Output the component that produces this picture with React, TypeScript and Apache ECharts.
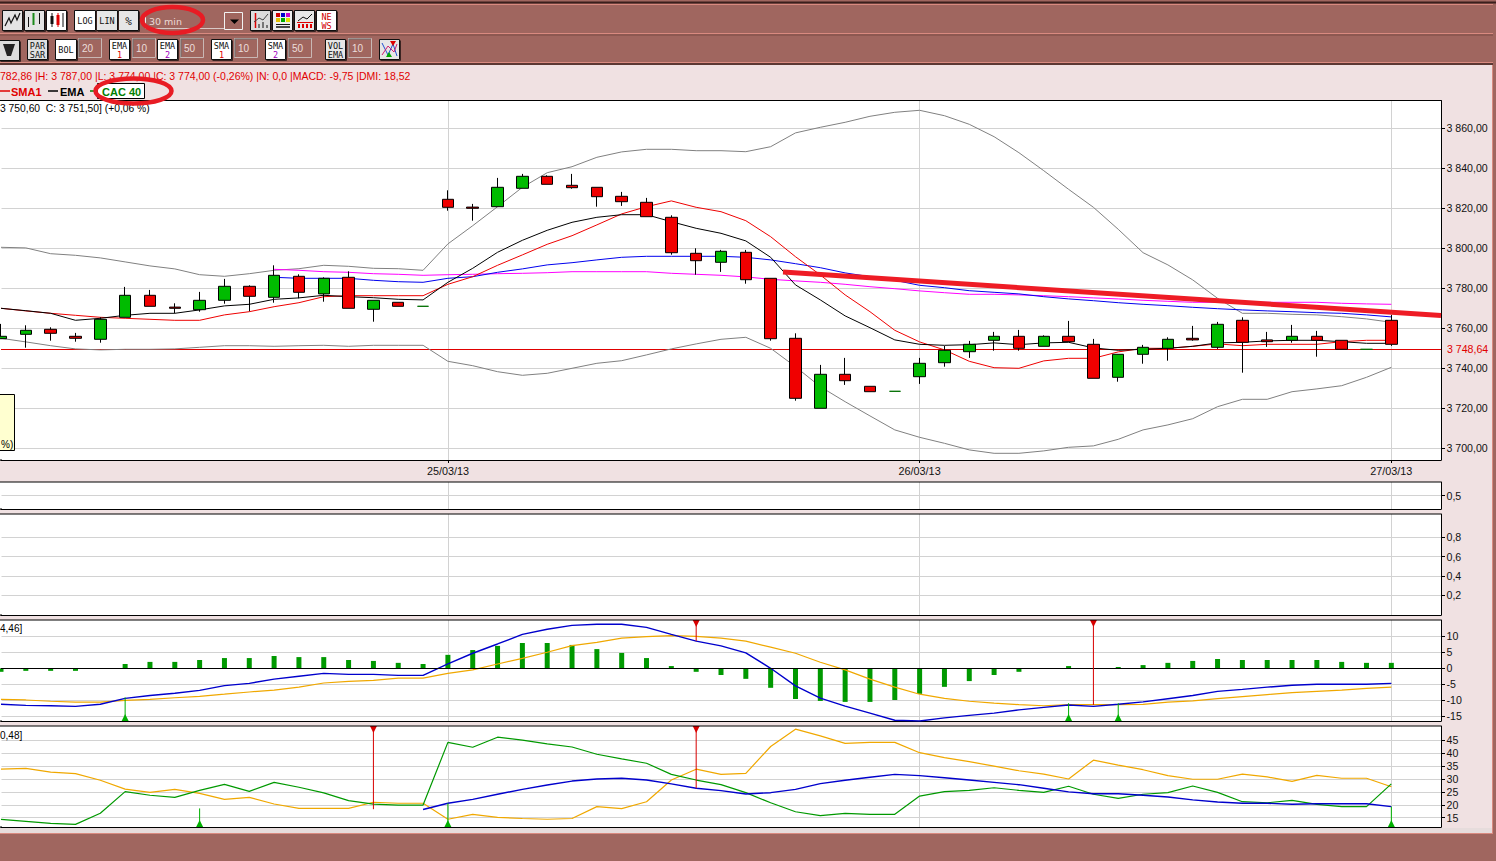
import React, { useEffect, useRef } from "react";
import * as echarts from "echarts";

const slotCount = 59;
const categories = Array.from({ length: slotCount }, (_, i) => String(i));
const dateLabels: Record<string, string> = { "18": "25/03/13", "37": "26/03/13", "56": "27/03/13" };

const priceTicks = [3700, 3720, 3740, 3760, 3780, 3800, 3820, 3840, 3860];
const panel2Ticks = [0.5];
const panel3Ticks = [0.2, 0.4, 0.6, 0.8];
const macdTicks = [-15, -10, -5, 0, 5, 10];
const dmiTicks = [15, 20, 25, 30, 35, 40, 45];

// open, close, low, high
const candles = [
  [3754.8, 3756, 3754.8, 3762.2], [3757, 3759, 3750.3, 3761.5], [3759.5, 3757.5, 3753.8, 3760.5], [3756, 3755, 3753.3, 3757.7],
  [3754.5, 3764.5, 3752.8, 3765.5], [3765.5, 3776.5, 3765.5, 3780.7], [3776.5, 3771, 3771, 3779.2], [3770.6, 3770, 3767.5, 3772.5],
  [3769.3, 3774, 3768.3, 3778.2], [3774, 3781, 3772.3, 3784.7], [3781, 3776, 3768.5, 3781.5], [3775.5, 3786.5, 3772.8, 3791.5],
  [3786, 3778, 3775, 3787], [3777.2, 3785, 3773.3, 3785.5], [3785.5, 3770, 3770, 3788.5], [3769.5, 3774, 3763.3, 3774],
  [3773, 3771, 3771, 3773], [3771, 3771, 3771, 3771], [3824.5, 3820.5, 3818.8, 3829], [3820.6, 3820, 3813.8, 3822.2],
  [3820.8, 3830.5, 3820.8, 3835.2], [3830, 3836, 3830, 3837.2], [3836, 3832, 3832, 3836.5], [3831.5, 3830.3, 3829.8, 3837.2],
  [3830.5, 3825.8, 3820.8, 3830.5], [3826, 3823.3, 3821.2, 3828.2], [3823, 3815.8, 3815.8, 3825.2], [3815.5, 3797.8, 3796.8, 3816.5],
  [3797.5, 3793.8, 3786.8, 3800], [3793, 3798.5, 3788.2, 3799.2], [3798, 3784.3, 3782.3, 3799.2], [3785, 3754.8, 3753.8, 3785],
  [3755, 3725, 3723.8, 3757.5], [3720, 3737, 3720, 3741.7], [3737, 3733.8, 3731.7, 3745.2], [3731, 3728.3, 3728.3, 3731],
  [3728.5, 3728.5, 3728.5, 3728.5], [3735.8, 3742.5, 3732.2, 3745.2], [3742.8, 3749, 3740.8, 3751.2], [3748.3, 3752, 3745.2, 3753.7],
  [3754, 3756, 3748.8, 3758.2], [3756, 3750, 3748.8, 3759.2], [3751, 3756, 3751, 3756.5], [3756, 3753.3, 3753.3, 3763.7],
  [3752, 3735, 3735, 3754.7], [3735.5, 3747, 3733.3, 3747], [3747, 3750.5, 3742.3, 3751.7], [3750, 3754.5, 3743.8, 3755.5],
  [3755, 3754.2, 3753.8, 3761.2], [3750.5, 3762, 3749.7, 3763.2], [3764, 3753, 3737.8, 3765.5], [3754.2, 3753.3, 3750.7, 3758.2],
  [3754, 3756, 3752.8, 3761.7], [3756, 3754, 3745.8, 3758.7], [3754, 3749.5, 3749.5, 3754], [3749.5, 3749.5, 3749.5, 3749.5],
  [3764, 3752, 3751.2, 3766.7],
];

const bollUpper = [3800.5, 3800.2, 3797.3, 3796.5, 3795.2, 3793.2, 3791.2, 3789.7, 3786.8, 3786, 3787.3, 3789, 3789.8, 3791.5, 3791, 3790, 3789.8, 3789, 3802.2, 3811.3, 3820.8, 3830.5, 3837.8, 3840.8, 3845.5, 3848.2, 3849.5, 3849.5, 3848.8, 3848.8, 3848.3, 3850.8, 3857.7, 3860.5, 3863, 3866, 3868, 3869, 3866.3, 3862, 3855.8, 3847.8, 3838.8, 3829.5, 3820.5, 3809.5, 3797.8, 3791.7, 3784.2, 3775, 3767.5, 3767.5, 3767, 3766.7, 3765.8, 3764.7, 3763];
const bollLower = [3755, 3753.2, 3751.3, 3749.7, 3749.2, 3749.5, 3749.5, 3749.7, 3750.5, 3751.3, 3751.3, 3751, 3751.3, 3751.5, 3751, 3751.5, 3751.5, 3751.5, 3743.5, 3741.3, 3738.3, 3736.5, 3737.5, 3740, 3742.5, 3743.8, 3746.7, 3749.7, 3752.2, 3754.5, 3755.5, 3750, 3740.8, 3730.8, 3723.3, 3716.2, 3709.2, 3705.5, 3702.5, 3699.2, 3697.5, 3697.5, 3698.7, 3700.5, 3701.2, 3704.5, 3709.2, 3711.7, 3714.8, 3720.8, 3724.5, 3724.5, 3728.3, 3729.7, 3731.3, 3735.5, 3740.5];
const ema1 = [3770, 3768.8, 3767.5, 3764, 3765, 3766.5, 3767.5, 3767.5, 3769.2, 3771.2, 3772, 3774.5, 3775.2, 3776.5, 3775.8, 3775.3, 3774.5, 3774.2, 3783, 3790, 3798, 3804, 3809, 3813, 3815.5, 3816.8, 3816.8, 3813.3, 3810, 3807.5, 3803.7, 3795.5, 3781.7, 3774.2, 3766.2, 3760.3, 3754.2, 3752, 3751.5, 3751.8, 3752.7, 3751.8, 3752.7, 3753, 3750.2, 3749, 3749.5, 3750, 3751, 3752.7, 3753, 3753.7, 3754, 3754, 3753.3, 3752.5, 3752.5];
const sma1 = [3770, 3768.7, 3767.5, 3766.5, 3765.5, 3765, 3764.5, 3764, 3764, 3766.7, 3768.3, 3770.8, 3772.8, 3775.8, 3776.3, 3776.3, 3776.3, 3776.3, 3782, 3785.8, 3791.5, 3796.7, 3802, 3806.3, 3811.7, 3817.2, 3820.8, 3823.7, 3820.5, 3818.3, 3813.8, 3805.8, 3795.8, 3786.7, 3776.7, 3768.3, 3759, 3753.2, 3749.2, 3743.5, 3740.3, 3740, 3743.7, 3745, 3745, 3748.2, 3750, 3750, 3751, 3752.2, 3751.3, 3752, 3752, 3752, 3753.3, 3754, 3754];
const ema2 = [null, null, null, null, null, null, null, null, null, null, null, 3785.5, 3785, 3785, 3785, 3784, 3783.3, 3783, 3785, 3785.8, 3788, 3789.7, 3791.7, 3792.8, 3794.2, 3795.5, 3796, 3796, 3796, 3796, 3795.5, 3794.2, 3792.3, 3790.3, 3787.7, 3785.8, 3784, 3781.5, 3780.3, 3778.8, 3778, 3777.2, 3775.8, 3774.7, 3773.8, 3772.8, 3772, 3771.3, 3770.5, 3769.8, 3769.2, 3768.7, 3768.3, 3767.8, 3767.5, 3766.7, 3765.7];
const sma2 = [null, null, null, null, null, null, null, null, null, null, null, 3789.5, 3789, 3788.3, 3788, 3787.3, 3787, 3786.5, 3786.8, 3787, 3787.3, 3787.5, 3787.8, 3788.3, 3788.3, 3788.3, 3788.3, 3787.5, 3787, 3786.5, 3785.7, 3784.5, 3783.7, 3783, 3782, 3780.8, 3779.8, 3778.7, 3777.8, 3777, 3777, 3776.7, 3776.3, 3775.8, 3775.2, 3774.7, 3774, 3773.5, 3773, 3773, 3773, 3773, 3773, 3773, 3772.5, 3772.2, 3772];

const macdHist = [-1.1, -0.8, -0.8, -0.8, 0, 1.35, 2, 2, 2.6, 3.2, 3.2, 3.85, 3.5, 3.5, 2.6, 2.3, 1.7, 1.35, 4.2, 5.7, 7, 7.9, 7.9, 7.3, 6, 4.8, 3.2, 0.7, -1.1, -2.1, -3.3, -6.1, -9.6, -10.2, -10.5, -10.5, -9.9, -8, -5.8, -4, -2.1, -1.1, 0, 0.7, 0, 0.4, 1, 1.7, 2.3, 2.9, 2.6, 2.6, 2.6, 2.6, 2, 1.7, 1.7];
const macdLine = [-11.25, -11.6, -11.7, -11.9, -11.25, -9.4, -8.5, -7.8, -6.9, -5.4, -4.7, -3.4, -2.5, -1.6, -1.9, -1.9, -2.2, -2.2, 1.35, 4.7, 7.6, 10.6, 12.2, 13.4, 13.75, 13.75, 12.8, 10.6, 8.5, 7, 4.8, 0, -5.5, -9.3, -11.8, -14, -16.25, -16.45, -15.5, -14.7, -14, -13, -12.2, -11.45, -11.9, -11.25, -10.5, -9.5, -8.5, -7.2, -6.6, -5.9, -5.3, -5, -5, -5, -4.7];
const macdSignal = [-9.7, -9.9, -10.3, -10.6, -10.6, -10, -9.7, -9.2, -8.75, -8.1, -7.4, -6.8, -5.9, -4.6, -4.1, -3.75, -3.1, -3.1, -1.6, -0.5, 1.35, 3.1, 5, 7.1, 8.1, 9.4, 9.9, 10.2, 10, 9.4, 8.5, 6.6, 4.7, 1.9, -0.5, -3.4, -5.9, -8.1, -9.4, -10.3, -10.9, -11.35, -11.7, -11.35, -11.35, -11.35, -11.25, -10.6, -10.2, -9.5, -8.85, -8.2, -7.6, -7.2, -6.8, -6.25, -5.9];

const dmiPlus = [14.35, 13.6, 12.8, 12.4, 16.7, 25.1, 23.7, 22.9, 25.6, 27.9, 25.2, 28.7, 26.8, 24.6, 21.6, 20.3, 19.9, 19.9, 44.2, 42.3, 46.2, 45.1, 43.6, 42.4, 39.6, 37.8, 36.1, 31.8, 29.6, 27.8, 24.7, 20.8, 17.3, 15.8, 16.7, 16.3, 16.3, 23.4, 25.1, 25.6, 26.6, 25.6, 24.8, 27.2, 24.1, 22.5, 24.1, 24.7, 27.3, 24.8, 21.2, 20.8, 21.7, 20.2, 19.3, 19.3, 28.1];
const dmiMinus = [33.8, 34.1, 32.7, 32.1, 29.5, 26.1, 24.8, 26, 24.4, 22.1, 22.9, 20.3, 18.6, 18.6, 18.6, 21, 20.6, 20.6, 14.4, 16.3, 15.1, 14.7, 14.4, 14.7, 19.3, 18.5, 21.2, 29.6, 33.8, 31.8, 32.2, 42.6, 49.3, 46.7, 43.8, 44.2, 44.2, 40.2, 38.3, 36.7, 35, 33.2, 31.9, 30, 37.3, 35.4, 33.6, 31.3, 29.9, 29.9, 31.9, 30.8, 29.1, 31.4, 30.3, 30.3, 27];
const adx = [null, null, null, null, null, null, null, null, null, null, null, null, null, null, null, null, null, 18.2, 20.6, 22.1, 24.1, 26, 27.7, 29.2, 30, 30.3, 29.6, 28.1, 26.4, 25.5, 24.2, 24.7, 26, 28.2, 29.5, 30.7, 31.8, 31.3, 30.5, 29.6, 28.7, 27.8, 26.4, 25, 24.3, 24.3, 23.7, 23, 21.9, 21.1, 20.6, 20.6, 20.2, 20.4, 20.4, 20.4, 19.3];

// [slot, value at the axis edge, value at the end of the stem]
const macdBuySignals = [[5, -16.47, -9.1], [43, -16.47, -10.9], [45, -16.47, -10.9]];
const macdSellSignals = [[28, 15.09, 8.5], [44, 15.09, -11.45]];
const dmiBuySignals = [[8, 11.4, 18.6], [18, 11.4, 20.6], [56, 11.4, 19.3]];
const dmiSellSignals = [[15, 50.54, 18.3], [28, 50.54, 26.4]];

const lastPriceLevel = 3749.5;
const lastPriceLabel = "3 748,64";
const infoLine = "782,86 |H: 3 787,00 |L: 3 774,00 |C: 3 774,00 (-0,26%) |N: 0,0 |MACD: -9,75 |DMI: 18,52";
const hoverLine = "3 750,60  C: 3 751,50] (+0,06 %)";

const BROWN = "#a0665f";
const PINK = "#f0e1e2";
const GRIDLINE = "#d2d2d2";
const FONT = "Liberation Sans, Arial, sans-serif";

const grids = [
  { top: 100.5, height: 359.5, min: 3694.15, max: 3873.9 },
  { top: 482, height: 27, min: 0, max: 1 },
  { top: 514, height: 101, min: -0.004, max: 1.041 },
  { top: 620, height: 101, min: -16.47, max: 15.09 },
  { top: 726, height: 101, min: 11.4, max: 50.54 },
];

const fmtPrice = (v: number) => `3 ${String(Math.round(v) % 1000).padStart(3, "0")},00`;
const fmtDec = (v: number) => String(v).replace(".", ",");

function T(x: number, y: number, text: string, fill: string, font: string, align = "left") {
  return {
    type: "text", x, y, z: 50, silent: true,
    style: { text, fill, font, align, verticalAlign: "middle", textAlign: align, textVerticalAlign: "middle" },
  };
}
function R(x: number, y: number, w: number, h: number, fill: string, stroke?: string, z = 40) {
  return {
    type: "rect", z, silent: true, shape: { x, y, width: w, height: h },
    style: { fill, stroke: stroke || "none", lineWidth: stroke ? 1 : 0 },
  };
}
function L(x1: number, y1: number, x2: number, y2: number, stroke: string, lineWidth = 1, z = 45) {
  return { type: "line", z, silent: true, shape: { x1, y1, x2, y2 }, style: { stroke, lineWidth } };
}
function P(points: number[][], stroke: string, lineWidth = 1) {
  return { type: "polyline", z: 50, silent: true, shape: { points }, style: { stroke, lineWidth, fill: "none" } };
}
function Btn(x: number, y: number, w: number, h: number, fill = "#f6f6f6") {
  return [
    R(x + 0.5, y + 0.5, w, h, fill, "#101010"),
    L(x + 1.5, y + h + 1.5, x + w + 1.5, y + h + 1.5, "#3a2422"),
    L(x + w + 1.5, y + 1.5, x + w + 1.5, y + h + 1.5, "#3a2422"),
  ];
}
const BTN_FONT = "8.5px DejaVu Sans Mono, monospace";
function TextBtn(x: number, y: number, w: number, h: number, lines: string[], colors?: string[], fill?: string, font = BTN_FONT) {
  const out: any[] = Btn(x, y, w, h, fill);
  const step = 9;
  const y0 = y + h / 2 + 1 - ((lines.length - 1) * step) / 2;
  lines.forEach((t, i) => out.push(T(x + w / 2 + 0.5, y0 + i * step, t, colors ? colors[i] : "#111", font, "center")));
  return out;
}
function Field(x: number, y: number, w: number, h: number, text: string) {
  return [R(x + 0.5, y + 0.5, w, h, BROWN, "#c9b7b4"), L(x + 1, y + 1, x + w, y + 1, "#6e6e6e"), L(x + 1, y + 1, x + 1, y + h, "#6e6e6e"),
    T(x + 4, y + h / 2 + 1, text, "#ecdedb", "10px Liberation Sans, sans-serif")];
}

function chromeElements() {
  const els: any[] = [];
  // bands
  els.push(R(0, 0, 1496, 65, BROWN, undefined, 30));
  els.push(R(0, 833, 1496, 28, BROWN, undefined, 30));
  els.push(R(1493, 0, 3, 861, BROWN, undefined, 30));
  els.push(L(0, 2.5, 1496, 2.5, "#3a1f1c", 2, 32));
  els.push(L(0, 4.5, 1493, 4.5, "#d98a80", 1, 32));
  els.push(L(0, 33.5, 1493, 33.5, "#d98a80", 1, 32));
  els.push(L(0, 35, 1493, 35, "#7a4a44", 1, 32));
  els.push(L(0, 62.5, 1493, 62.5, "#d98a80", 1, 32));
  els.push(L(0, 64, 1493, 64, "#5c3733", 2, 32));
  els.push(L(0, 833.5, 1493, 833.5, "#d98a80", 1, 32));
  els.push(L(1492.5, 65, 1492.5, 833, "#d98a80", 1, 32));
  els.push(R(0, 828, 1492, 5, "#e6dcdc", undefined, 31));

  // row 1
  els.push(...Btn(2, 10, 20, 20, "#e4e4e4"));
  els.push(P([[5, 26], [9, 18], [11, 23], [15, 15], [17, 20], [20, 13]], "#111", 1.2));
  els.push(...Btn(24, 10, 20, 20, "#e4e4e4"));
  els.push(L(28.5, 17, 28.5, 27, "#111"), L(33.5, 13, 33.5, 25, "#1a8a1a", 2), L(39.5, 13, 39.5, 24, "#111"));
  els.push(...Btn(46, 10, 20, 20, "#ffffff"));
  els.push(L(52, 13, 52, 27, "#111"), L(58, 13, 58, 27, "#d00"), R(50.5, 16, 3, 8, "#111"), R(56.5, 15, 3, 10, "#e00000"), L(63, 13, 63, 27, "#111"));
  els.push(...TextBtn(74, 10, 21, 20, ["LOG"], undefined, "#ffffff"));
  els.push(...TextBtn(96, 10, 21, 20, ["LIN"], undefined, "#e6e6e6"));
  els.push(...TextBtn(118, 10, 20, 20, ["%"], undefined, "#e6e6e6", "11px DejaVu Sans Mono, monospace"));
  // dropdown
  els.push(L(145.5, 12, 145.5, 29, "#f2f2f2", 1));
  els.push(L(146, 28.5, 224, 28.5, "#d9c8c6", 1));
  els.push(T(149, 21, "30 min", "#ecdad7", "9.5px DejaVu Sans, sans-serif"));
  els.push(R(224.5, 12.5, 18, 17, BROWN, "#f2f2f2"));
  els.push({ type: "polygon", z: 50, silent: true, shape: { points: [[230, 19.5], [239, 19.5], [234.5, 24]] }, style: { fill: "#000" } });
  els.push(...Btn(250, 10, 20, 20, "#dcdcdc"));
  els.push(L(255.5, 13, 255.5, 28, "#d00", 1.5), P([[254, 22], [259, 18], [263, 20], [268, 14]], "#444"));
  els.push(R(258, 24, 2, 4, "#777"), R(262, 22, 2, 6, "#777"), R(266, 25, 2, 3, "#777"));
  els.push(...Btn(272, 10, 20, 20, "#eeeeee"));
  els.push(R(276, 13, 4, 4, "#c00"), R(281, 13, 4, 4, "#00c"), R(286, 13, 4, 4, "#c0c"), R(276, 18, 4, 4, "#e0c000"), R(281, 18, 4, 4, "#0a0"), R(286, 18, 4, 4, "#e0e000"));
  els.push(L(276, 24.5, 290, 24.5, "#111"), L(276, 27, 290, 27, "#111", 1.5));
  els.push(...Btn(294, 10, 20, 20, "#e8e8e8"));
  els.push(P([[298, 21], [303, 17], [307, 19], [312, 14]], "#111"), L(297, 22.5, 313, 22.5, "#d00"));
  els.push(R(298, 24, 2, 4, "#d00"), R(302, 24, 2, 4, "#d00"), R(306, 24, 2, 4, "#d00"), R(310, 24, 2, 4, "#d00"));
  els.push(...TextBtn(316, 10, 20, 20, ["NE", "WS"], ["#d00000", "#d00000"], "#ffffff"));

  // row 2
  els.push(...Btn(-1, 40, 20, 20, "#dcdcdc"));
  els.push({ type: "polygon", z: 50, silent: true, shape: { points: [[3, 44], [15, 44], [11, 56], [7, 56]] }, style: { fill: "#222" } });
  els.push(L(5, 47, 13, 47, "#ddd"), L(6, 50, 12, 50, "#ddd"), L(7, 53, 11, 53, "#ddd"));
  els.push(...TextBtn(27, 39, 20, 20, ["PAR", "SAR"], undefined, "#e0e0e0"));
  els.push(...TextBtn(55, 39, 21, 20, ["BOL"], undefined, "#ffffff"));
  els.push(...Field(78, 38, 23, 19, "20"));
  els.push(...TextBtn(109, 39, 20, 20, ["EMA", "1"], ["#111", "#e00000"], "#ffffff"));
  els.push(...Field(132, 38, 23, 19, "10"));
  els.push(...TextBtn(157, 39, 20, 20, ["EMA", "2"], ["#111", "#a000c0"], "#ffffff"));
  els.push(...Field(180, 38, 23, 19, "50"));
  els.push(...TextBtn(211, 39, 20, 20, ["SMA", "1"], ["#111", "#e00000"], "#ffffff"));
  els.push(...Field(234, 38, 23, 19, "10"));
  els.push(...TextBtn(265, 39, 20, 20, ["SMA", "2"], ["#111", "#a000c0"], "#ffffff"));
  els.push(...Field(288, 38, 23, 19, "50"));
  els.push(...TextBtn(325, 39, 20, 20, ["VOL", "EMA"], undefined, "#e6e6e6"));
  els.push(...Field(348, 38, 23, 19, "10"));
  els.push(...Btn(379, 39, 20, 20, "#e6e6e6"));
  els.push(P([[382, 43], [388, 55], [393, 44], [397, 56]], "#2050d0"), P([[382, 55], [388, 46], [394, 52], [397, 44]], "#d02070"));
  els.push({ type: "polygon", z: 50, silent: true, shape: { points: [[386, 57], [392, 57], [389, 52]] }, style: { fill: "#0a0" } });
  els.push({ type: "polygon", z: 50, silent: true, shape: { points: [[390, 41], [396, 41], [393, 46]] }, style: { fill: "#d00" } });

  // info and legend lines
  els.push(T(0, 75.5, infoLine, "#e00000", `10.5px ${FONT}`));
  els.push(L(0, 91, 10, 91, "#e00000", 1.5));
  els.push(T(11, 91.5, "SMA1", "#e00000", `bold 11px ${FONT}`));
  els.push(L(48, 91, 58, 91, "#000", 1.5));
  els.push(T(60, 91.5, "EMA", "#000", `bold 11px ${FONT}`));
  els.push(L(90, 91, 98, 91, "#008000", 1.5));
  els.push(R(97.5, 83.5, 47, 15, "#ffffff", "#000"));
  els.push(T(102, 91.5, "CAC 40", "#008000", `bold 11px ${FONT}`));

  // panel frame pieces on the open left side
  grids.forEach((g) => {
    els.push(R(0, g.top, 1.5, g.height, "#ffffff", undefined, 1));
    els.push(L(0, g.top, 1441, g.top, "#000", 1, 20));
    els.push(L(0, g.top + g.height, 2, g.top + g.height, "#000", 1, 20));
  });

  // overlays on panels
  els.push(T(0, 108, hoverLine, "#000", `10.3px ${FONT}`));
  els.push(R(-1.5, 394.5, 16, 56, "#ffffd0", "#000"));
  els.push(T(1, 444, "%)", "#000", `10px ${FONT}`));
  els.push(T(0, 628, "4,46]", "#000", `10px ${FONT}`));
  els.push(T(0, 735, "0,48]", "#000", `10px ${FONT}`));

  // hand-drawn annotations
  els.push({ type: "line", z: 100, silent: true, shape: { x1: 783, y1: 272, x2: 1441, y2: 315.5 }, style: { stroke: "#ee1c25", lineWidth: 5 } });
  els.push({ type: "ellipse", z: 100, silent: true, shape: { cx: 172.5, cy: 20, rx: 30.5, ry: 13 }, style: { stroke: "#e81c24", lineWidth: 4.5, fill: "none" } });
  els.push({ type: "ellipse", z: 100, silent: true, shape: { cx: 133.5, cy: 91, rx: 38, ry: 12.5 }, style: { stroke: "#e81c24", lineWidth: 4.5, fill: "none" } });
  return els;
}

function signalSeries(grid: number, data: number[][], color: string) {
  return {
    type: "custom", xAxisIndex: grid, yAxisIndex: grid, data, z: 6, clip: false, silent: true,
    encode: { x: 0, y: [1, 2] },
    renderItem: (_p: any, api: any) => {
      const base = api.coord([api.value(0), api.value(1)]);
      const end = api.coord([api.value(0), api.value(2)]);
      const dir = end[1] < base[1] ? -1 : 1;
      return {
        type: "group",
        children: [
          { type: "line", shape: { x1: base[0], y1: base[1], x2: end[0], y2: end[1] }, style: { stroke: color, lineWidth: 1 } },
          { type: "polygon", shape: { points: [[base[0] - 3.5, base[1]], [base[0] + 3.5, base[1]], [base[0], base[1] + dir * 7]] }, style: { fill: color } },
        ],
      };
    },
  };
}

function lineSeries(grid: number, data: any[], color: string, width = 1, z = 3) {
  return {
    type: "line", xAxisIndex: grid, yAxisIndex: grid, data, symbol: "none", silent: true, z,
    connectNulls: false, lineStyle: { color, width },
  };
}

function buildOption() {
  const ticksByGrid = [priceTicks, panel2Ticks, panel3Ticks, macdTicks, dmiTicks];
  const fmtByGrid: ((v: number) => string)[] = [fmtPrice, fmtDec, fmtDec, (v) => String(v), (v) => String(v)];
  const isDate = (i: number) => String(i) in dateLabels;
  return {
    animation: false,
    backgroundColor: PINK,
    graphic: { elements: chromeElements() },
    grid: grids.map((g) => ({
      left: 1, width: 1440, top: g.top, height: g.height, show: true,
      backgroundColor: "#ffffff", borderWidth: 0, containLabel: false,
    })),
    xAxis: grids.map((_, i) => ({
      type: "category", gridIndex: i, data: categories, boundaryGap: false,
      axisLine: { show: true, onZero: false, lineStyle: { color: "#000", width: 1 } },
      axisTick: { show: i === 0, length: 3, interval: (idx: number) => isDate(idx), lineStyle: { color: "#000" } },
      axisLabel: {
        show: i === 0, interval: (idx: number) => isDate(idx), margin: 5, hideOverlap: false,
        fontFamily: FONT, fontSize: 10.8, color: "#111", formatter: (v: string) => dateLabels[v] || "",
      },
      splitLine: { show: true, interval: (idx: number) => isDate(idx), lineStyle: { color: GRIDLINE, width: 1 } },
    })),
    yAxis: grids.map((g, i) => ({
      type: "value", gridIndex: i, position: "right", min: g.min, max: g.max, scale: true,
      axisLine: { show: true, onZero: false, lineStyle: { color: "#000", width: 1 } },
      axisTick: { show: true, length: 4, customValues: ticksByGrid[i], lineStyle: { color: "#000" } },
      axisLabel: {
        show: true, margin: 5.5, customValues: ticksByGrid[i], fontFamily: FONT, fontSize: 10.6, color: "#111",
        formatter: fmtByGrid[i], showMinLabel: true, showMaxLabel: true,
      },
      splitLine: { show: true, lineStyle: { color: GRIDLINE, width: 1 } },
    })),
    series: [
      lineSeries(0, bollUpper, "#808080"),
      lineSeries(0, bollLower, "#808080"),
      lineSeries(0, sma2, "#ff00ff"),
      lineSeries(0, ema2, "#0000ee"),
      lineSeries(0, sma1, "#ee0000"),
      lineSeries(0, ema1, "#000000"),
      {
        type: "candlestick", xAxisIndex: 0, yAxisIndex: 0, data: candles, barWidth: 12, z: 5, clip: false, silent: true,
        itemStyle: {
          color: "#00bb00", color0: "#f00000", borderColor: "#000", borderColor0: "#000", borderWidth: 1,
          borderColorDoji: "#006f00",
        },
        markLine: {
          silent: true, symbol: "none", animation: false, z: 2,
          lineStyle: { color: "#e00000", width: 1, type: "solid" },
          label: { show: true, position: "end", distance: 6, formatter: lastPriceLabel, color: "#e00000", fontFamily: FONT, fontSize: 10.6 },
          data: [{ yAxis: lastPriceLevel }],
        },
      },
      {
        type: "bar", xAxisIndex: 3, yAxisIndex: 3, data: macdHist, barWidth: 5, z: 2, silent: true, clip: false,
        itemStyle: { color: "#009900" },
        markLine: {
          silent: true, symbol: "none", animation: false, label: { show: false },
          lineStyle: { color: "#000", width: 1, type: "solid" }, data: [{ yAxis: 0 }],
        },
      },
      lineSeries(3, macdSignal, "#f0a800", 1.2),
      lineSeries(3, macdLine, "#0000cc", 1.4),
      signalSeries(3, macdBuySignals, "#00b000"),
      signalSeries(3, macdSellSignals, "#d80000"),
      lineSeries(4, dmiMinus, "#f0a800", 1.2),
      lineSeries(4, dmiPlus, "#009900", 1.2),
      lineSeries(4, adx, "#0000cc", 1.4),
      signalSeries(4, dmiBuySignals, "#00b000"),
      signalSeries(4, dmiSellSignals, "#d80000"),
    ],
  };
}

export default function App() {
  const ref = useRef<HTMLDivElement>(null);
  useEffect(() => {
    document.body.style.margin = "0";
    document.body.style.overflow = "hidden";
    const chart = echarts.init(ref.current!, undefined, { renderer: "svg" });
    chart.setOption(buildOption() as any);
    return () => chart.dispose();
  }, []);
  return <div ref={ref} style={{ width: 1496, height: 861, background: PINK }} />;
}
